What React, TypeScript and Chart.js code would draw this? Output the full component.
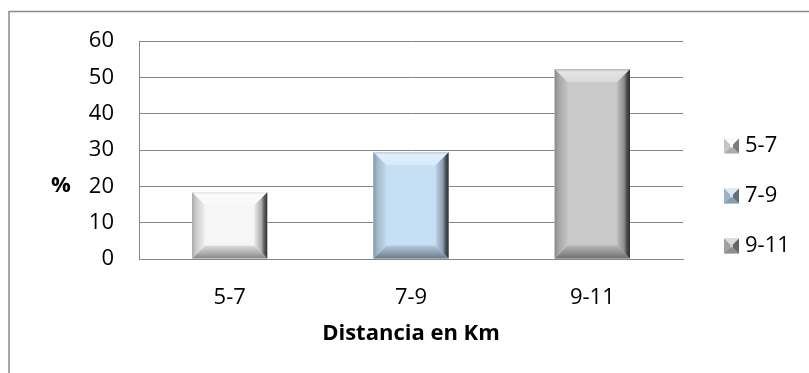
import React, { useEffect, useRef } from 'react';
import { Chart, registerables } from 'chart.js';

Chart.register(...registerables);

// Distance classes and the share of each one (%)
const categories = ['5-7', '7-9', '9-11'];
const percentages = [18.4, 29.4, 52.2];
const yTicks = [0, 10, 20, 30, 40, 50, 60];
const barFaces = ['#f6f6f6', '#c6dff5', '#c9c9c9'];
const xTitle = 'Distancia en Km';
const yTitle = '%';

const FONT = "'Open Sans', 'DejaVu Sans', sans-serif";
const GRID = '#868686';

function mix(hex: string, target: number, t: number): string {
  const n = parseInt(hex.slice(1), 16);
  const ch = [(n >> 16) & 255, (n >> 8) & 255, n & 255].map((c) =>
    Math.round(c + (target - c) * t)
  );
  return `rgb(${ch[0]},${ch[1]},${ch[2]})`;
}
const lighten = (c: string, t: number) => mix(c, 255, t);
const darken = (c: string, t: number) => mix(c, 0, t);

function fillPoly(ctx: CanvasRenderingContext2D, pts: number[][], style: any) {
  ctx.beginPath();
  ctx.moveTo(pts[0][0], pts[0][1]);
  for (let i = 1; i < pts.length; i++) ctx.lineTo(pts[i][0], pts[i][1]);
  ctx.closePath();
  ctx.fillStyle = style;
  ctx.fill();
}

function grad(ctx: CanvasRenderingContext2D, x0: number, y0: number, x1: number, y1: number, stops: [number, string][]) {
  const g = ctx.createLinearGradient(x0, y0, x1, y1);
  stops.forEach(([o, c]) => g.addColorStop(o, c));
  return g;
}

// Outer frame of the chart object
const framePlugin = {
  id: 'frame',
  beforeDraw(chart: any) {
    const { ctx, width, height } = chart;
    ctx.save();
    ctx.strokeStyle = '#8a8a8a';
    ctx.lineWidth = 1.5;
    ctx.beginPath();
    ctx.moveTo(9, height);
    ctx.lineTo(9, 11.5);
    ctx.lineTo(width, 11.5);
    ctx.stroke();
    ctx.restore();
  },
};

// Bevelled look on every bar
const bevelPlugin = {
  id: 'bevel',
  afterDatasetsDraw(chart: any) {
    const { ctx } = chart;
    const meta = chart.getDatasetMeta(0);
    meta.data.forEach((el: any, i: number) => {
      const { x, y, base, width } = el.getProps(['x', 'y', 'base', 'width'], true);
      const L = x - width / 2;
      const R = x + width / 2;
      const T = Math.min(y, base);
      const B = Math.max(y, base);
      const face = barFaces[i % barFaces.length];
      const b = Math.min(13, (B - T) / 2, width / 2);
      ctx.save();
      ctx.fillStyle = face;
      ctx.fillRect(L, T, R - L, B - T);
      // top
      fillPoly(ctx, [[L, T], [R, T], [R - b, T + b], [L + b, T + b]],
        grad(ctx, 0, T, 0, T + b, [[0, darken(face, 0.08)], [0.2, lighten(face, 0.5)], [1, lighten(face, 0.3)]]));
      // bottom
      fillPoly(ctx, [[L, B], [R, B], [R - b, B - b], [L + b, B - b]],
        grad(ctx, 0, B - b, 0, B, [[0, darken(face, 0.1)], [0.6, darken(face, 0.3)], [1, darken(face, 0.45)]]));
      // left
      fillPoly(ctx, [[L, T], [L + b, T + b], [L + b, B - b], [L, B]],
        grad(ctx, L, 0, L + b, 0, [[0, darken(face, 0.32)], [0.3, darken(face, 0.18)], [1, darken(face, 0.02)]]));
      // right
      fillPoly(ctx, [[R, T], [R, B], [R - b, B - b], [R - b, T + b]],
        grad(ctx, R - b, 0, R, 0, [[0, darken(face, 0.05)], [0.55, darken(face, 0.3)], [0.75, darken(face, 0.6)], [1, darken(face, 0.8)]]));
      ctx.restore();
    });
  },
};

// Legend on the right and the horizontal "%" title
const sidePlugin = {
  id: 'sideTexts',
  afterDraw(chart: any) {
    const { ctx } = chart;
    ctx.save();
    ctx.fillStyle = '#000';
    ctx.font = `bold 22px ${FONT}`;
    ctx.textAlign = 'center';
    ctx.textBaseline = 'middle';
    ctx.fillText(yTitle, 61, 186);

    const labels: string[] = chart.data.labels;
    const top = 146;
    const step = 50;
    const bx = 724;
    const s = 15;
    labels.forEach((lab, i) => {
      const cy = top + i * step;
      const face = barFaces[i % barFaces.length];
      const x0 = bx, y0 = cy - s / 2, x1 = bx + s, y1 = cy + s / 2;
      const ins = 6;
      ctx.fillStyle = face;
      ctx.fillRect(x0, y0, s, s);
      fillPoly(ctx, [[x0, y0], [x1, y0], [x1 - ins, y0 + ins], [x0 + ins, y0 + ins]], lighten(face, 0.35));
      fillPoly(ctx, [[x0, y1], [x1, y1], [x1 - ins, y1 - ins], [x0 + ins, y1 - ins]], darken(face, 0.3));
      fillPoly(ctx, [[x0, y0], [x0 + ins, y0 + ins], [x0 + ins, y1 - ins], [x0, y1]], darken(face, 0.2));
      fillPoly(ctx, [[x1, y0], [x1, y1], [x1 - ins, y1 - ins], [x1 - ins, y0 + ins]], darken(face, 0.5));
      ctx.fillStyle = '#000';
      ctx.font = `22px ${FONT}`;
      ctx.textAlign = 'left';
      ctx.textBaseline = 'middle';
      ctx.fillText(lab, bx + s + 6, cy);
    });
    ctx.restore();
  },
};

export default function App() {
  const ref = useRef<HTMLCanvasElement>(null);

  useEffect(() => {
    if (!ref.current) return;
    const chart = new Chart(ref.current, {
      type: 'bar',
      data: {
        labels: categories,
        datasets: [
          {
            data: percentages,
            backgroundColor: barFaces,
            borderWidth: 0,
            barPercentage: 0.415,
            categoryPercentage: 1,
          },
        ],
      },
      options: {
        responsive: false,
        animation: false,
        devicePixelRatio: 1,
        layout: { padding: { left: 0, top: 41, right: 126, bottom: 22 } },
        plugins: { legend: { display: false }, tooltip: { enabled: false } },
        scales: {
          x: {
            grid: { display: false, drawTicks: false },
            border: { color: GRID, width: 1 },
            ticks: { color: '#000', font: { family: FONT, size: 22 }, padding: 26 },
            title: {
              display: true,
              text: xTitle,
              color: '#000',
              font: { family: FONT, size: 22, weight: 'bold' },
              padding: { top: 4, bottom: 4 },
            },
            afterFit: (s: any) => {
              s.height = 92;
            },
          },
          y: {
            min: yTicks[0],
            max: yTicks[yTicks.length - 1],
            afterBuildTicks: (s: any) => {
              s.ticks = yTicks.map((v) => ({ value: v }));
            },
            ticks: { color: '#000', font: { family: FONT, size: 22 }, padding: 25 },
            grid: { color: GRID, drawTicks: false, lineWidth: 1 },
            border: { color: GRID, width: 1 },
            afterFit: (s: any) => {
              s.width = 139;
            },
          },
        },
      },
      plugins: [framePlugin, bevelPlugin, sidePlugin],
    } as any);
    return () => chart.destroy();
  }, []);

  return (
    <div style={{ position: 'fixed', left: 0, top: 0, width: 809, height: 373, background: '#fff' }}>
      <canvas ref={ref} width={809} height={373} style={{ display: 'block' }} />
    </div>
  );
}
